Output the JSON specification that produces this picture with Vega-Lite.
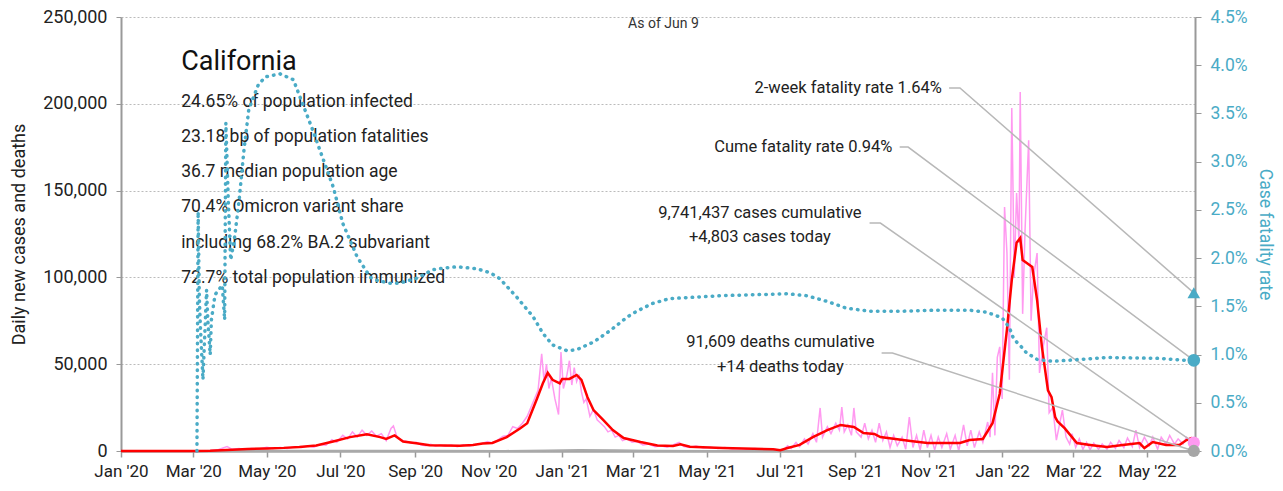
{
  "$schema": "https://vega.github.io/schema/vega-lite/v6.json",
  "width": 1074,
  "height": 434,
  "autosize": {"type": "none"},
  "padding": {"left": 121, "top": 17, "right": 88, "bottom": 40},
  "background": "white",
  "config": {
    "font": "Roboto",
    "view": {"stroke": null},
    "axis": {"titleFontWeight": "normal", "labelColor": "#222222", "titleColor": "#222222"}
  },
  "datasets": {
    "daily": [
      {"date": "2020-01-01", "v": 0}, {"date": "2020-02-25", "v": 0}, {"date": "2020-03-05", "v": 50}, {"date": "2020-03-15", "v": 300},
      {"date": "2020-03-22", "v": 900}, {"date": "2020-03-29", "v": 2500}, {"date": "2020-04-02", "v": 1000}, {"date": "2020-04-08", "v": 1400},
      {"date": "2020-04-12", "v": 700}, {"date": "2020-04-18", "v": 1500}, {"date": "2020-04-24", "v": 1100}, {"date": "2020-05-01", "v": 2200},
      {"date": "2020-05-06", "v": 1400}, {"date": "2020-05-12", "v": 2000}, {"date": "2020-05-18", "v": 1500}, {"date": "2020-05-24", "v": 2500},
      {"date": "2020-05-30", "v": 2000}, {"date": "2020-06-04", "v": 3000}, {"date": "2020-06-09", "v": 2200}, {"date": "2020-06-14", "v": 3800},
      {"date": "2020-06-19", "v": 3300}, {"date": "2020-06-24", "v": 6500}, {"date": "2020-06-28", "v": 5000}, {"date": "2020-07-03", "v": 9000},
      {"date": "2020-07-07", "v": 7000}, {"date": "2020-07-11", "v": 11000}, {"date": "2020-07-15", "v": 8000}, {"date": "2020-07-19", "v": 12000},
      {"date": "2020-07-23", "v": 9000}, {"date": "2020-07-27", "v": 11500}, {"date": "2020-07-31", "v": 8500}, {"date": "2020-08-04", "v": 10000},
      {"date": "2020-08-08", "v": 6000}, {"date": "2020-08-12", "v": 13000}, {"date": "2020-08-14", "v": 14500}, {"date": "2020-08-17", "v": 8000},
      {"date": "2020-08-21", "v": 6000}, {"date": "2020-08-25", "v": 5500}, {"date": "2020-08-29", "v": 4500}, {"date": "2020-09-02", "v": 5000},
      {"date": "2020-09-06", "v": 3500}, {"date": "2020-09-10", "v": 3000}, {"date": "2020-09-14", "v": 3800}, {"date": "2020-09-18", "v": 2800},
      {"date": "2020-09-22", "v": 3500}, {"date": "2020-09-26", "v": 2800}, {"date": "2020-10-01", "v": 3500}, {"date": "2020-10-06", "v": 2500},
      {"date": "2020-10-11", "v": 3600}, {"date": "2020-10-16", "v": 2900}, {"date": "2020-10-21", "v": 3800}, {"date": "2020-10-26", "v": 4200},
      {"date": "2020-10-31", "v": 5500}, {"date": "2020-11-05", "v": 4500}, {"date": "2020-11-09", "v": 6500}, {"date": "2020-11-13", "v": 8500},
      {"date": "2020-11-17", "v": 9000}, {"date": "2020-11-21", "v": 14000}, {"date": "2020-11-25", "v": 13000}, {"date": "2020-11-29", "v": 16000},
      {"date": "2020-12-03", "v": 20000}, {"date": "2020-12-06", "v": 25000}, {"date": "2020-12-09", "v": 30000}, {"date": "2020-12-12", "v": 35000},
      {"date": "2020-12-15", "v": 56000}, {"date": "2020-12-17", "v": 40000}, {"date": "2020-12-19", "v": 50000}, {"date": "2020-12-21", "v": 36000},
      {"date": "2020-12-23", "v": 42000}, {"date": "2020-12-26", "v": 30000}, {"date": "2020-12-29", "v": 21000}, {"date": "2020-12-31", "v": 57000},
      {"date": "2021-01-02", "v": 36000}, {"date": "2021-01-05", "v": 44000}, {"date": "2021-01-07", "v": 52000}, {"date": "2021-01-09", "v": 38000},
      {"date": "2021-01-11", "v": 48000}, {"date": "2021-01-13", "v": 40000}, {"date": "2021-01-15", "v": 44000}, {"date": "2021-01-17", "v": 34000},
      {"date": "2021-01-19", "v": 28000}, {"date": "2021-01-21", "v": 30000}, {"date": "2021-01-24", "v": 20000}, {"date": "2021-01-27", "v": 24000},
      {"date": "2021-01-30", "v": 18000}, {"date": "2021-02-02", "v": 16000}, {"date": "2021-02-05", "v": 14000}, {"date": "2021-02-08", "v": 11000},
      {"date": "2021-02-11", "v": 12000}, {"date": "2021-02-14", "v": 8000}, {"date": "2021-02-17", "v": 9000}, {"date": "2021-02-20", "v": 6000},
      {"date": "2021-02-24", "v": 7000}, {"date": "2021-02-28", "v": 5000}, {"date": "2021-03-04", "v": 5500}, {"date": "2021-03-09", "v": 3500},
      {"date": "2021-03-14", "v": 4000}, {"date": "2021-03-19", "v": 2500}, {"date": "2021-03-24", "v": 3000}, {"date": "2021-03-29", "v": 2200},
      {"date": "2021-04-03", "v": 3500}, {"date": "2021-04-08", "v": 5000}, {"date": "2021-04-12", "v": 2500}, {"date": "2021-04-17", "v": 2000},
      {"date": "2021-04-22", "v": 2800}, {"date": "2021-04-28", "v": 1800}, {"date": "2021-05-04", "v": 2200}, {"date": "2021-05-10", "v": 1500},
      {"date": "2021-05-16", "v": 2000}, {"date": "2021-05-22", "v": 1200}, {"date": "2021-05-28", "v": 1500}, {"date": "2021-06-03", "v": 1000},
      {"date": "2021-06-10", "v": 1400}, {"date": "2021-06-17", "v": 900}, {"date": "2021-06-24", "v": 1300}, {"date": "2021-06-29", "v": 600},
      {"date": "2021-07-03", "v": 200}, {"date": "2021-07-07", "v": 3000}, {"date": "2021-07-10", "v": 1500}, {"date": "2021-07-14", "v": 5000},
      {"date": "2021-07-17", "v": 2500}, {"date": "2021-07-21", "v": 7000}, {"date": "2021-07-24", "v": 4000}, {"date": "2021-07-28", "v": 10000},
      {"date": "2021-07-31", "v": 5000}, {"date": "2021-08-03", "v": 24800}, {"date": "2021-08-05", "v": 8000}, {"date": "2021-08-09", "v": 14000},
      {"date": "2021-08-12", "v": 10000}, {"date": "2021-08-16", "v": 16000}, {"date": "2021-08-19", "v": 12000}, {"date": "2021-08-21", "v": 25300},
      {"date": "2021-08-23", "v": 11000}, {"date": "2021-08-26", "v": 15000}, {"date": "2021-08-29", "v": 9000}, {"date": "2021-08-31", "v": 24800},
      {"date": "2021-09-02", "v": 11000}, {"date": "2021-09-06", "v": 8000}, {"date": "2021-09-09", "v": 16000}, {"date": "2021-09-12", "v": 7000},
      {"date": "2021-09-15", "v": 12000}, {"date": "2021-09-18", "v": 5000}, {"date": "2021-09-21", "v": 16000}, {"date": "2021-09-24", "v": 6000},
      {"date": "2021-09-27", "v": 11000}, {"date": "2021-09-30", "v": 2000}, {"date": "2021-10-03", "v": 9000}, {"date": "2021-10-06", "v": 3000},
      {"date": "2021-10-10", "v": 8000}, {"date": "2021-10-13", "v": 1000}, {"date": "2021-10-16", "v": 19600}, {"date": "2021-10-19", "v": 2000},
      {"date": "2021-10-22", "v": 9000}, {"date": "2021-10-25", "v": 500}, {"date": "2021-10-28", "v": 12000}, {"date": "2021-10-31", "v": 2000},
      {"date": "2021-11-03", "v": 9000}, {"date": "2021-11-06", "v": 500}, {"date": "2021-11-09", "v": 8000}, {"date": "2021-11-12", "v": 2000},
      {"date": "2021-11-16", "v": 10000}, {"date": "2021-11-19", "v": 1000}, {"date": "2021-11-23", "v": 9000}, {"date": "2021-11-26", "v": 0},
      {"date": "2021-11-30", "v": 15000}, {"date": "2021-12-03", "v": 3000}, {"date": "2021-12-06", "v": 12000}, {"date": "2021-12-09", "v": 2000},
      {"date": "2021-12-13", "v": 11000}, {"date": "2021-12-16", "v": 5000}, {"date": "2021-12-20", "v": 16700}, {"date": "2021-12-22", "v": 8000},
      {"date": "2021-12-24", "v": 45000}, {"date": "2021-12-26", "v": 9000}, {"date": "2021-12-28", "v": 54000}, {"date": "2021-12-30", "v": 60000},
      {"date": "2022-01-01", "v": 30000}, {"date": "2022-01-03", "v": 140500}, {"date": "2022-01-05", "v": 114000}, {"date": "2022-01-07", "v": 41000},
      {"date": "2022-01-09", "v": 197600}, {"date": "2022-01-10", "v": 152000}, {"date": "2022-01-11", "v": 100000}, {"date": "2022-01-13", "v": 148600},
      {"date": "2022-01-15", "v": 120000}, {"date": "2022-01-16", "v": 206800}, {"date": "2022-01-18", "v": 79000}, {"date": "2022-01-20", "v": 127000},
      {"date": "2022-01-23", "v": 179000}, {"date": "2022-01-25", "v": 75000}, {"date": "2022-01-27", "v": 100000}, {"date": "2022-01-30", "v": 114000},
      {"date": "2022-02-01", "v": 45000}, {"date": "2022-02-04", "v": 60000}, {"date": "2022-02-07", "v": 71000}, {"date": "2022-02-09", "v": 22000},
      {"date": "2022-02-12", "v": 25000}, {"date": "2022-02-15", "v": 6300}, {"date": "2022-02-20", "v": 23600}, {"date": "2022-02-23", "v": 8000},
      {"date": "2022-02-26", "v": 4000}, {"date": "2022-02-28", "v": 10000}, {"date": "2022-03-03", "v": 2000}, {"date": "2022-03-06", "v": 7000},
      {"date": "2022-03-09", "v": 1000}, {"date": "2022-03-12", "v": 5000}, {"date": "2022-03-15", "v": 800}, {"date": "2022-03-18", "v": 4500},
      {"date": "2022-03-22", "v": 1000}, {"date": "2022-03-25", "v": 4000}, {"date": "2022-03-29", "v": 1000}, {"date": "2022-04-01", "v": 5000},
      {"date": "2022-04-05", "v": 1500}, {"date": "2022-04-08", "v": 6000}, {"date": "2022-04-12", "v": 2000}, {"date": "2022-04-15", "v": 7500},
      {"date": "2022-04-19", "v": 2500}, {"date": "2022-04-22", "v": 12000}, {"date": "2022-04-25", "v": 2000}, {"date": "2022-04-29", "v": 8000},
      {"date": "2022-05-03", "v": 3000}, {"date": "2022-05-06", "v": 8000}, {"date": "2022-05-10", "v": 1000}, {"date": "2022-05-13", "v": 8000},
      {"date": "2022-05-17", "v": 4000}, {"date": "2022-05-20", "v": 9000}, {"date": "2022-05-24", "v": 4000}, {"date": "2022-05-27", "v": 7000},
      {"date": "2022-05-31", "v": 4000}, {"date": "2022-06-03", "v": 8000}, {"date": "2022-06-06", "v": 6000}, {"date": "2022-06-09", "v": 4803}
    ],
    "avg": [
      {"date": "2020-01-01", "v": 0}, {"date": "2020-03-01", "v": 5}, {"date": "2020-03-15", "v": 150}, {"date": "2020-03-29", "v": 600},
      {"date": "2020-04-15", "v": 1100}, {"date": "2020-05-01", "v": 1500}, {"date": "2020-05-15", "v": 1800}, {"date": "2020-05-28", "v": 2300},
      {"date": "2020-06-11", "v": 3200}, {"date": "2020-06-25", "v": 5500}, {"date": "2020-07-09", "v": 8000}, {"date": "2020-07-23", "v": 9600},
      {"date": "2020-08-03", "v": 8000}, {"date": "2020-08-08", "v": 7000}, {"date": "2020-08-15", "v": 9000}, {"date": "2020-08-22", "v": 5500},
      {"date": "2020-09-02", "v": 4500}, {"date": "2020-09-13", "v": 3300}, {"date": "2020-10-08", "v": 3000}, {"date": "2020-10-19", "v": 3500},
      {"date": "2020-10-27", "v": 4300}, {"date": "2020-11-04", "v": 4600}, {"date": "2020-11-16", "v": 8000}, {"date": "2020-11-27", "v": 13000},
      {"date": "2020-12-03", "v": 16000}, {"date": "2020-12-11", "v": 30000}, {"date": "2020-12-16", "v": 39000}, {"date": "2020-12-20", "v": 45000},
      {"date": "2020-12-24", "v": 41000}, {"date": "2020-12-30", "v": 39000}, {"date": "2021-01-01", "v": 41500}, {"date": "2021-01-07", "v": 41500},
      {"date": "2021-01-13", "v": 43800}, {"date": "2021-01-17", "v": 41000}, {"date": "2021-01-22", "v": 31000}, {"date": "2021-01-27", "v": 23600},
      {"date": "2021-02-04", "v": 17900}, {"date": "2021-02-12", "v": 12100}, {"date": "2021-02-21", "v": 7500}, {"date": "2021-03-07", "v": 5200},
      {"date": "2021-03-21", "v": 3200}, {"date": "2021-04-03", "v": 2900}, {"date": "2021-04-09", "v": 3800}, {"date": "2021-04-17", "v": 2400},
      {"date": "2021-05-14", "v": 1700}, {"date": "2021-06-25", "v": 1000}, {"date": "2021-07-01", "v": 500}, {"date": "2021-07-07", "v": 1700},
      {"date": "2021-07-17", "v": 3500}, {"date": "2021-07-28", "v": 8000}, {"date": "2021-08-09", "v": 12000}, {"date": "2021-08-20", "v": 15000},
      {"date": "2021-08-31", "v": 13800}, {"date": "2021-09-08", "v": 10400}, {"date": "2021-09-17", "v": 9800}, {"date": "2021-09-22", "v": 8000},
      {"date": "2021-10-17", "v": 5800}, {"date": "2021-10-31", "v": 4600}, {"date": "2021-11-27", "v": 4600}, {"date": "2021-12-05", "v": 6300},
      {"date": "2021-12-16", "v": 6900}, {"date": "2021-12-24", "v": 16000}, {"date": "2021-12-30", "v": 33000}, {"date": "2022-01-05", "v": 70000},
      {"date": "2022-01-09", "v": 98500}, {"date": "2022-01-13", "v": 120000}, {"date": "2022-01-16", "v": 122700}, {"date": "2022-01-18", "v": 110000},
      {"date": "2022-01-22", "v": 108000}, {"date": "2022-01-26", "v": 106000}, {"date": "2022-01-30", "v": 87000}, {"date": "2022-02-03", "v": 60000},
      {"date": "2022-02-06", "v": 45000}, {"date": "2022-02-08", "v": 35000}, {"date": "2022-02-11", "v": 31000}, {"date": "2022-02-14", "v": 19600},
      {"date": "2022-02-16", "v": 17000}, {"date": "2022-02-22", "v": 13000}, {"date": "2022-03-04", "v": 4600}, {"date": "2022-03-15", "v": 3500},
      {"date": "2022-03-29", "v": 2300}, {"date": "2022-04-11", "v": 3500}, {"date": "2022-04-25", "v": 4600}, {"date": "2022-04-29", "v": 1700},
      {"date": "2022-05-06", "v": 5200}, {"date": "2022-05-17", "v": 3500}, {"date": "2022-05-28", "v": 3500}, {"date": "2022-06-03", "v": 6300},
      {"date": "2022-06-07", "v": 7500}, {"date": "2022-06-09", "v": 7000}
    ],
    "deaths": [
      {"date": "2020-01-01", "v": 0}, {"date": "2020-03-01", "v": 0}, {"date": "2020-04-15", "v": 80}, {"date": "2020-07-30", "v": 140},
      {"date": "2020-09-15", "v": 100}, {"date": "2020-11-15", "v": 50}, {"date": "2020-12-20", "v": 300}, {"date": "2021-01-15", "v": 550},
      {"date": "2021-02-15", "v": 400}, {"date": "2021-03-15", "v": 150}, {"date": "2021-05-01", "v": 40}, {"date": "2021-07-01", "v": 20},
      {"date": "2021-08-30", "v": 100}, {"date": "2021-10-15", "v": 60}, {"date": "2021-12-15", "v": 40}, {"date": "2022-02-01", "v": 200},
      {"date": "2022-03-15", "v": 80}, {"date": "2022-05-01", "v": 20}, {"date": "2022-06-09", "v": 14}
    ],
    "cfr": [
      {"date": "2020-03-04", "r": 0}, {"date": "2020-03-05", "r": 2.48}, {"date": "2020-03-06", "r": 1.57}, {"date": "2020-03-07", "r": 1.25},
      {"date": "2020-03-09", "r": 0.74}, {"date": "2020-03-10", "r": 1.05}, {"date": "2020-03-12", "r": 1.67}, {"date": "2020-03-13", "r": 1.36},
      {"date": "2020-03-15", "r": 1.0}, {"date": "2020-03-16", "r": 1.36}, {"date": "2020-03-19", "r": 1.62}, {"date": "2020-03-22", "r": 1.67},
      {"date": "2020-03-25", "r": 1.72}, {"date": "2020-03-27", "r": 1.36}, {"date": "2020-03-28", "r": 3.40}, {"date": "2020-03-30", "r": 2.60},
      {"date": "2020-04-01", "r": 1.98}, {"date": "2020-04-04", "r": 2.19}, {"date": "2020-04-08", "r": 2.60}, {"date": "2020-04-12", "r": 3.12},
      {"date": "2020-04-16", "r": 3.54}, {"date": "2020-04-24", "r": 3.80}, {"date": "2020-04-30", "r": 3.88}, {"date": "2020-05-12", "r": 3.91},
      {"date": "2020-05-23", "r": 3.85}, {"date": "2020-06-08", "r": 3.33}, {"date": "2020-06-16", "r": 3.05}, {"date": "2020-06-25", "r": 2.74},
      {"date": "2020-07-03", "r": 2.36}, {"date": "2020-07-15", "r": 2.01}, {"date": "2020-07-26", "r": 1.80}, {"date": "2020-07-31", "r": 1.77},
      {"date": "2020-08-11", "r": 1.74}, {"date": "2020-08-19", "r": 1.74}, {"date": "2020-09-02", "r": 1.79}, {"date": "2020-09-16", "r": 1.88},
      {"date": "2020-09-27", "r": 1.90}, {"date": "2020-10-06", "r": 1.91}, {"date": "2020-10-22", "r": 1.89}, {"date": "2020-11-02", "r": 1.85},
      {"date": "2020-11-10", "r": 1.79}, {"date": "2020-11-24", "r": 1.60}, {"date": "2020-12-08", "r": 1.39}, {"date": "2020-12-16", "r": 1.22},
      {"date": "2020-12-24", "r": 1.10}, {"date": "2021-01-05", "r": 1.04}, {"date": "2021-01-13", "r": 1.05}, {"date": "2021-01-27", "r": 1.13},
      {"date": "2021-02-10", "r": 1.25}, {"date": "2021-02-24", "r": 1.39}, {"date": "2021-03-04", "r": 1.45}, {"date": "2021-03-17", "r": 1.53},
      {"date": "2021-03-31", "r": 1.58}, {"date": "2021-04-14", "r": 1.59}, {"date": "2021-05-12", "r": 1.61}, {"date": "2021-06-08", "r": 1.62},
      {"date": "2021-07-07", "r": 1.63}, {"date": "2021-07-23", "r": 1.61}, {"date": "2021-08-09", "r": 1.55}, {"date": "2021-08-25", "r": 1.48},
      {"date": "2021-09-13", "r": 1.45}, {"date": "2021-10-11", "r": 1.45}, {"date": "2021-11-08", "r": 1.46}, {"date": "2021-12-05", "r": 1.46},
      {"date": "2021-12-19", "r": 1.44}, {"date": "2022-01-01", "r": 1.38}, {"date": "2022-01-07", "r": 1.28}, {"date": "2022-01-10", "r": 1.18},
      {"date": "2022-01-13", "r": 1.13}, {"date": "2022-01-17", "r": 1.08}, {"date": "2022-01-21", "r": 1.02}, {"date": "2022-01-30", "r": 0.95},
      {"date": "2022-02-12", "r": 0.93}, {"date": "2022-02-24", "r": 0.94}, {"date": "2022-03-29", "r": 0.97}, {"date": "2022-05-12", "r": 0.96},
      {"date": "2022-06-03", "r": 0.94}, {"date": "2022-06-09", "r": 0.94}
    ],
    "leaders": [
      {"id": "a", "date": "2021-11-18", "v": 209100}, {"id": "a", "date": "2021-11-27", "v": 209100}, {"id": "a", "date": "2022-06-09", "v": 91111},
      {"id": "b", "date": "2021-10-08", "v": 175100}, {"id": "b", "date": "2021-10-15", "v": 175100}, {"id": "b", "date": "2022-06-09", "v": 52222},
      {"id": "c", "date": "2021-09-13", "v": 131300}, {"id": "c", "date": "2021-09-22", "v": 131300}, {"id": "c", "date": "2022-06-09", "v": 4803},
      {"id": "d", "date": "2021-09-23", "v": 56450}, {"id": "d", "date": "2021-10-02", "v": 56450}, {"id": "d", "date": "2022-06-09", "v": 14}
    ],
    "notes": [
      {"kind": "title", "date": "2020-02-20", "v": 224080, "label": "California"},
      {"kind": "stat", "date": "2020-02-20", "v": 201040, "label": "24.65% of population infected"},
      {"kind": "stat", "date": "2020-02-20", "v": 180870, "label": "23.18 bp of population fatalities"},
      {"kind": "stat", "date": "2020-02-20", "v": 160710, "label": "36.7 median population age"},
      {"kind": "stat", "date": "2020-02-20", "v": 140550, "label": "70.4% Omicron variant share"},
      {"kind": "stat", "date": "2020-02-20", "v": 119820, "label": "including 68.2% BA.2 subvariant"},
      {"kind": "stat", "date": "2020-02-20", "v": 99660, "label": "72.7% total population immunized"},
      {"kind": "right", "date": "2021-11-12", "v": 209100, "label": "2-week fatality rate 1.64%"},
      {"kind": "right", "date": "2021-10-02", "v": 175100, "label": "Cume fatality rate 0.94%"},
      {"kind": "center", "date": "2021-06-14", "v": 137100, "label": "9,741,437 cases cumulative"},
      {"kind": "center", "date": "2021-06-14", "v": 123300, "label": "+4,803 cases today"},
      {"kind": "center", "date": "2021-07-01", "v": 62800, "label": "91,609 deaths cumulative"},
      {"kind": "center", "date": "2021-07-01", "v": 48400, "label": "+14 deaths today"},
      {"kind": "asof", "date": "2021-03-26", "v": 245970, "label": "As of Jun 9"}
    ],
    "endLeft": [
      {"series": "cases", "date": "2022-06-09", "v": 4803},
      {"series": "deaths", "date": "2022-06-09", "v": 14}
    ],
    "endRight": [
      {"series": "2-week", "date": "2022-06-09", "r": 1.64},
      {"series": "cume", "date": "2022-06-09", "r": 0.94}
    ]
  },
  "encoding": {
    "x": {
      "field": "date",
      "type": "temporal",
      "scale": {"type": "utc", "domain": [{"year": 2020, "month": 1, "date": 1, "utc": true}, {"year": 2022, "month": 6, "date": 10, "utc": true}]},
      "axis": {
        "title": null,
        "labelExpr": "utcFormat(datum.value, \"%b '%y\")",
        "tickCount": {"interval": "month", "step": 2},
        "labelFontSize": 17,
        "labelPadding": 6,
        "tickSize": 6,
        "tickColor": "#999999",
        "tickWidth": 1.5,
        "domainColor": "#a6a6a6",
        "domainWidth": 2.5,
        "grid": false,
        "labelFlush": false,
        "labelOverlap": false
      }
    }
  },
  "layer": [
    {
      "encoding": {
        "y": {
          "field": "v",
          "type": "quantitative",
          "scale": {"domain": [0, 250000], "nice": false},
          "axis": {
            "title": "Daily new cases and deaths",
            "titleFontSize": 18,
            "titlePadding": 14,
            "values": [0, 50000, 100000, 150000, 200000, 250000],
            "format": ",d",
            "labelFontSize": 18,
            "labelPadding": 9,
            "tickSize": 5,
            "tickColor": "#999999",
            "domainColor": "#999999",
            "domainWidth": 2,
            "grid": true,
            "gridColor": "#bbbbbb",
            "gridDash": [2, 2],
            "gridWidth": 1
          }
        }
      },
      "layer": [
        {"data": {"name": "daily"}, "mark": {"type": "line", "color": "#ff99f0", "strokeWidth": 1.5}},
        {"data": {"name": "deaths"}, "mark": {"type": "line", "color": "#aaaaaa", "strokeWidth": 2}},
        {"data": {"name": "avg"}, "mark": {"type": "line", "color": "#ff0000", "strokeWidth": 2.5}},
        {"data": {"name": "leaders"}, "mark": {"type": "line", "color": "#b8b8b8", "strokeWidth": 1.5}, "encoding": {"detail": {"field": "id"}}},
        {"data": {"name": "notes"}, "transform": [{"filter": "datum.kind === 'title'"}], "mark": {"type": "text", "align": "left", "baseline": "middle", "fontSize": 27, "color": "#111111"}, "encoding": {"text": {"field": "label"}}},
        {"data": {"name": "notes"}, "transform": [{"filter": "datum.kind === 'stat'"}], "mark": {"type": "text", "align": "left", "baseline": "middle", "fontSize": 17.5, "color": "#222222"}, "encoding": {"text": {"field": "label"}}},
        {"data": {"name": "notes"}, "transform": [{"filter": "datum.kind === 'right'"}], "mark": {"type": "text", "align": "right", "baseline": "middle", "fontSize": 16.5, "color": "#222222"}, "encoding": {"text": {"field": "label"}}},
        {"data": {"name": "notes"}, "transform": [{"filter": "datum.kind === 'center'"}], "mark": {"type": "text", "align": "center", "baseline": "middle", "fontSize": 16.5, "color": "#222222"}, "encoding": {"text": {"field": "label"}}},
        {"data": {"name": "notes"}, "transform": [{"filter": "datum.kind === 'asof'"}], "mark": {"type": "text", "align": "center", "baseline": "middle", "fontSize": 14, "color": "#333333"}, "encoding": {"text": {"field": "label"}}},
        {"data": {"name": "endLeft"}, "mark": {"type": "point", "filled": true, "size": 150, "opacity": 1}, "encoding": {"color": {"field": "series", "type": "nominal", "scale": {"domain": ["cases", "deaths"], "range": ["#ff99f0", "#a6a6a6"]}, "legend": null}}}
      ]
    },
    {
      "encoding": {
        "y": {
          "field": "r",
          "type": "quantitative",
          "scale": {"domain": [0, 4.5], "nice": false},
          "axis": {
            "orient": "right",
            "title": "Case fatality rate",
            "titleColor": "#4aabc6",
            "titleFontSize": 17.5,
            "titlePadding": 8,
            "values": [0, 0.5, 1, 1.5, 2, 2.5, 3, 3.5, 4, 4.5],
            "labelExpr": "format(datum.value, '.1f') + '%'",
            "labelColor": "#4aabc6",
            "labelFontSize": 17.5,
            "labelPadding": 9,
            "tickSize": 6,
            "tickColor": "#999999",
            "domainColor": "#999999",
            "domainWidth": 2,
            "grid": false
          }
        }
      },
      "layer": [
        {"data": {"name": "cfr"}, "mark": {"type": "line", "color": "#4aabc6", "strokeWidth": 3.5, "strokeDash": [0.5, 6.2], "strokeCap": "round"}},
        {"data": {"name": "endRight"}, "mark": {"type": "point", "filled": true, "size": 160, "opacity": 1, "color": "#4aabc6"}, "encoding": {"shape": {"field": "series", "type": "nominal", "scale": {"domain": ["2-week", "cume"], "range": ["triangle-up", "circle"]}, "legend": null}}}
      ]
    }
  ],
  "resolve": {"scale": {"y": "independent"}}
}
